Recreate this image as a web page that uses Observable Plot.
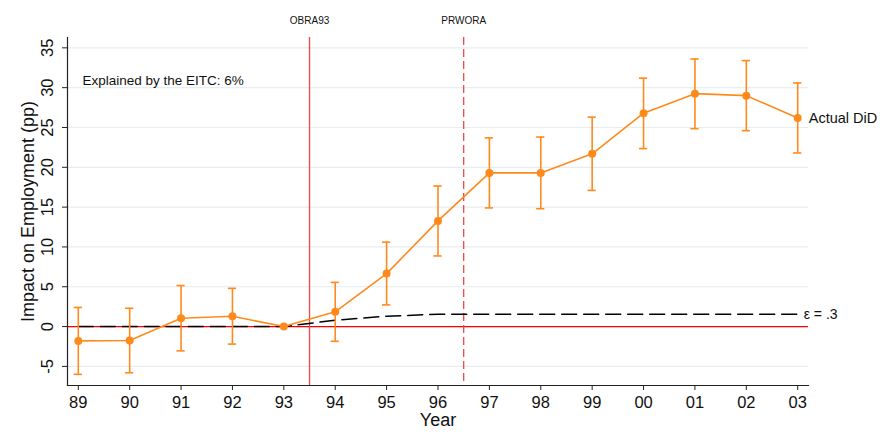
<!DOCTYPE html>
<html>
<head>
<meta charset="utf-8">
<script src="https://cdn.jsdelivr.net/npm/d3@7"></script>
<script src="https://cdn.jsdelivr.net/npm/@observablehq/plot@0.6"></script>
<style>
  html, body { margin: 0; padding: 0; background: #fff; }
  svg { font-family: "Liberation Sans", Arial, sans-serif; }
</style>
</head>
<body>
<div id="chart"></div>
<script>
const years = [1989,1990,1991,1992,1993,1994,1995,1996,1997,1998,1999,2000,2001,2002,2003];
const actualDiD = [-1.8,-1.75,1.05,1.3,0,1.85,6.65,13.27,19.3,19.3,21.7,26.8,29.25,29.0,26.2];
const ciLow  = [-6.0,-5.8,-3.05,-2.2,0,-1.85,2.72,8.87,14.9,14.8,17.1,22.35,24.85,24.6,21.8];
const ciHigh = [2.4,2.3,5.15,4.8,0,5.55,10.6,17.65,23.7,23.8,26.3,31.2,33.6,33.4,30.6];
const epsilon03 = [0,0,0,0,0,0.8,1.3,1.55,1.55,1.55,1.55,1.55,1.55,1.55,1.55];
const yTicks = [-5,0,5,10,15,20,25,30,35];
const policyYears = [1993.5, 1996.5];
const policyNames = ["OBRA93", "PRWORA"];
const note = "Explained by the EITC: 6%";

const rows = years.map((y, i) => ({year: y, did: actualDiD[i], lo: ciLow[i], hi: ciHigh[i], eps: epsilon03[i]}));
const ciRows = rows.filter(d => d.hi !== d.lo);
const policies = policyYears.map((y, i) => ({year: y, name: policyNames[i]}));
const xDomain = [1988.79, 2003.21];
const orange = "#ff8a1c";

const chart = Plot.plot({
  width: 886,
  height: 432,
  marginLeft: 67,
  marginRight: 78,
  marginTop: 37,
  marginBottom: 47,
  style: {fontFamily: "Liberation Sans, Arial, sans-serif", background: "#fff"},
  x: {domain: xDomain},
  y: {domain: [-7.4, 36.3]},
  marks: [
    Plot.gridY(yTicks, {stroke: "#e6eef0", strokeOpacity: 1, strokeWidth: 1.2}),
    Plot.ruleY([0], {stroke: "#ff0000", strokeWidth: 1.2}),
    Plot.ruleX(policies.slice(0, 1), {x: "year", stroke: "#f04646", strokeWidth: 1.3}),
    Plot.ruleX(policies.slice(1), {x: "year", stroke: "#f04646", strokeWidth: 1.3, strokeDasharray: "8,4"}),
    Plot.text(policies, {x: "year", text: "name", frameAnchor: "top", dy: -21, fontSize: 10, fill: "#111"}),
    Plot.line(rows, {x: "year", y: "eps", stroke: "#000", strokeWidth: 1.5, strokeDasharray: "15,7"}),
    Plot.ruleX(ciRows, {x: "year", y1: "lo", y2: "hi", stroke: orange, strokeWidth: 1.6}),
    Plot.ruleY(ciRows, {y: "lo", x1: d => d.year - 0.08, x2: d => d.year + 0.08, stroke: orange, strokeWidth: 1.6}),
    Plot.ruleY(ciRows, {y: "hi", x1: d => d.year - 0.08, x2: d => d.year + 0.08, stroke: orange, strokeWidth: 1.6}),
    Plot.line(rows, {x: "year", y: "did", stroke: orange, strokeWidth: 1.6}),
    Plot.dot(rows, {x: "year", y: "did", r: 4, fill: orange, stroke: "none"}),
    Plot.text(rows.slice(-1), {x: "year", y: "did", text: () => "Actual DiD", textAnchor: "start", dx: 11, fontSize: 14.5, fill: "#111"}),
    Plot.text(rows.slice(-1), {x: "year", y: "eps", text: () => "ε = .3", textAnchor: "start", dx: 6, fontSize: 14, fill: "#111"}),
    Plot.text([note], {x: xDomain[0], y: 30.9, text: d => d, textAnchor: "start", dx: 15, fontSize: 13.5, fill: "#111"}),
    Plot.frame({anchor: "bottom", stroke: "#222", strokeWidth: 1.2}),
    Plot.frame({anchor: "left", stroke: "#222", strokeWidth: 1.2}),
    Plot.axisX({ticks: years, tickFormat: d => String(d).slice(2), tickSize: 5, tickPadding: 6, fontSize: 16.5, label: null, stroke: "#222", color: "#111"}),
    Plot.axisY({ticks: yTicks, tickSize: 5, tickFormat: () => "", label: null, stroke: "#222"}),
    Plot.text(yTicks, {x: xDomain[0], y: d => d, text: d => String(d), rotate: -90, lineAnchor: "bottom", textAnchor: "middle", dx: -15, fontSize: 16.5, fill: "#111"}),
    Plot.text(["Impact on Employment (pp)"], {frameAnchor: "left", text: d => d, rotate: -90, lineAnchor: "bottom", textAnchor: "middle", dx: -34, fontSize: 18, fill: "#111"}),
    Plot.text(["Year"], {frameAnchor: "bottom", text: d => d, lineAnchor: "top", dy: 28, fontSize: 18, fill: "#111"})
  ]
});
document.getElementById("chart").appendChild(chart);
</script>
</body>
</html>
